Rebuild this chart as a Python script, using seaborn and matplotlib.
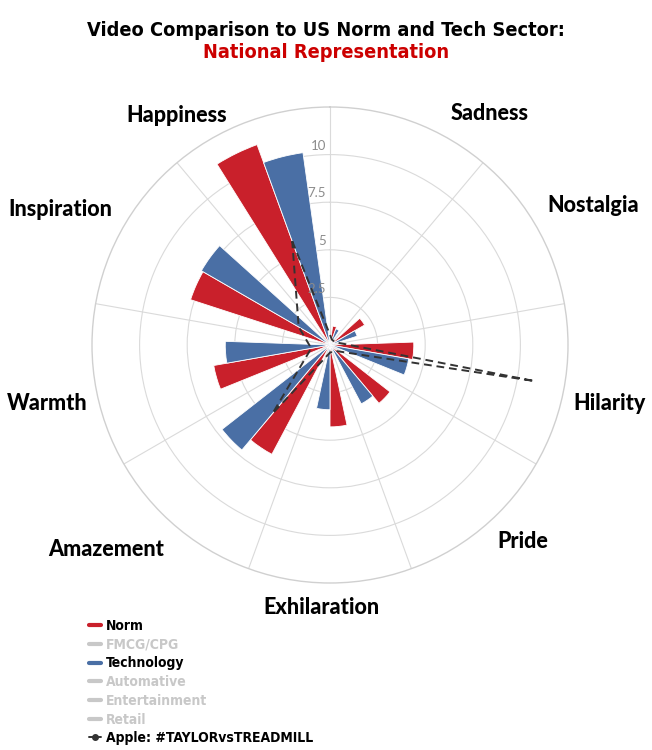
import numpy as np
import matplotlib
matplotlib.use("Agg")
import matplotlib.pyplot as plt
from matplotlib import font_manager
from matplotlib.lines import Line2D
import seaborn as sns

# dados
categories = ['Happiness', 'Sadness', 'Nostalgia', 'Hilarity', 'Pride',
              'Exhilaration', 'Amazement', 'Warmth', 'Inspiration']
norm = [11.2, 1.0, 2.1, 4.4, 4.0, 4.3, 6.5, 6.2, 7.7]
technology = [10.2, 0.9, 1.5, 4.2, 3.5, 3.4, 7.2, 5.5, 7.8]
apple = [5.8, 0.3, 0.3, 10.9, 0.4, 0.4, 4.7, 1.0, 1.9]
radial_ticks = [2.5, 5, 7.5, 10]

legend_labels = ['Norm', 'FMCG/CPG', 'Technology', 'Automative',
                 'Entertainment', 'Retail', 'Apple: #TAYLORvsTREADMILL']

# posições dos rótulos das categorias (pixels da figura)
label_pos = [(177, 115), (490, 114), (593, 206), (610, 403), (523, 542),
             (321, 608), (106, 550), (47, 403), (60, 210)]

RED = '#C9202B'
BLUE = '#4A6FA5'
GRAY = '#c8c8c8'

sns.set_theme(style='white')


# procura uma fonte condensada em negrito, se houver
def find_condensed():
    best = None
    for f in font_manager.fontManager.ttflist:
        fn = f.fname.lower()
        cond = ('condensed' in fn or 'narrow' in fn or
                str(f.stretch) in ('condensed', 'semi-condensed', 'extra-condensed'))
        if not cond:
            continue
        w = f.weight if isinstance(f.weight, int) else 700 if 'bold' in str(f.weight) else 400
        if w < 600 or 'italic' in fn or 'oblique' in fn:
            continue
        score = abs(w - 700)
        if best is None or score < best[0]:
            best = (score, f.fname)
    return best[1] if best else None


cond_file = find_condensed()
if cond_file:
    title_fp = font_manager.FontProperties(fname=cond_file, size=14.3)
    leg_fp = font_manager.FontProperties(fname=cond_file, size=10)
else:
    title_fp = font_manager.FontProperties(family='Roboto', weight='bold', size=16)
    leg_fp = font_manager.FontProperties(family='Roboto', weight='bold', size=9.5)

plt.rcParams['font.family'] = ['Lato', 'DejaVu Sans']

W, H = 652, 750
fig = plt.figure(figsize=(W / 100, H / 100), dpi=100)

cx, cy, R = 330, 345, 238
ax = fig.add_axes([(cx - R) / W, (H - cy - R) / H, 2 * R / W, 2 * R / H],
                  projection='polar')
ax.set_theta_zero_location('N')
ax.set_theta_direction(-1)

centers = np.deg2rad(-20 + 40 * np.arange(len(categories)))
off = np.deg2rad(6)
width = np.deg2rad(12)

ax.bar(centers - off, norm, width=width, color=RED, edgecolor='white',
       linewidth=0.6, zorder=3)
ax.bar(centers + off, technology, width=width, color=BLUE, edgecolor='white',
       linewidth=0.6, zorder=3)

# linha da Apple (polígono fechado)
theta_closed = np.append(centers, centers[0] + 2 * np.pi)
apple_closed = np.append(apple, apple[0])
sns.lineplot(x=theta_closed, y=apple_closed, sort=False, estimator=None, ax=ax,
             color='#333333', linestyle=(0, (4, 2.5)), linewidth=1.4, zorder=4)

ax.set_ylim(0, 12.5)
ax.set_yticks(radial_ticks)
ax.set_yticklabels([])
ax.set_xticks(np.deg2rad(np.arange(0, 360, 40)))
ax.set_xticklabels([])
ax.grid(True, color='#dadada', linewidth=0.8)
ax.spines['polar'].set_color('#d0d0d0')
ax.spines['polar'].set_linewidth(1.0)
ax.set_xlabel('')
ax.set_ylabel('')

for t in radial_ticks:
    ax.annotate(f'{t:g}', xy=(0, t), xytext=(-3, 2), textcoords='offset points',
                ha='right', va='bottom', fontsize=9.5, color='#8c8c8c')

for name, (x, y) in zip(categories, label_pos):
    fig.text(x / W, 1 - y / H, name, ha='center', va='center',
             fontsize=15.5, fontweight='black', color='black')

fig.text(0.5, 1 - 30 / H, 'Video Comparison to US Norm and Tech Sector:',
         ha='center', va='center', fontproperties=title_fp, color='black')
fig.text(0.5, 1 - 53 / H, 'National Representation', ha='center', va='center',
         fontproperties=title_fp, color='#CC0000')

handles = [
    Line2D([], [], color=RED, lw=3),
    Line2D([], [], color=GRAY, lw=3),
    Line2D([], [], color=BLUE, lw=3),
    Line2D([], [], color=GRAY, lw=3),
    Line2D([], [], color=GRAY, lw=3),
    Line2D([], [], color=GRAY, lw=3),
    Line2D([], [], color='#333333', lw=1.4, marker='o', markersize=4),
]
label_colors = ['black', GRAY, 'black', GRAY, GRAY, GRAY, 'black']
leg = fig.legend(handles, legend_labels, loc='upper left',
                 bbox_to_anchor=(89 / W, 1 - 619 / H), frameon=False,
                 borderpad=0, borderaxespad=0, handlelength=0.85,
                 handletextpad=0.4, labelspacing=0.34,
                 prop=leg_fp, labelcolor=label_colors)

fig.savefig('out.png', dpi=100)
